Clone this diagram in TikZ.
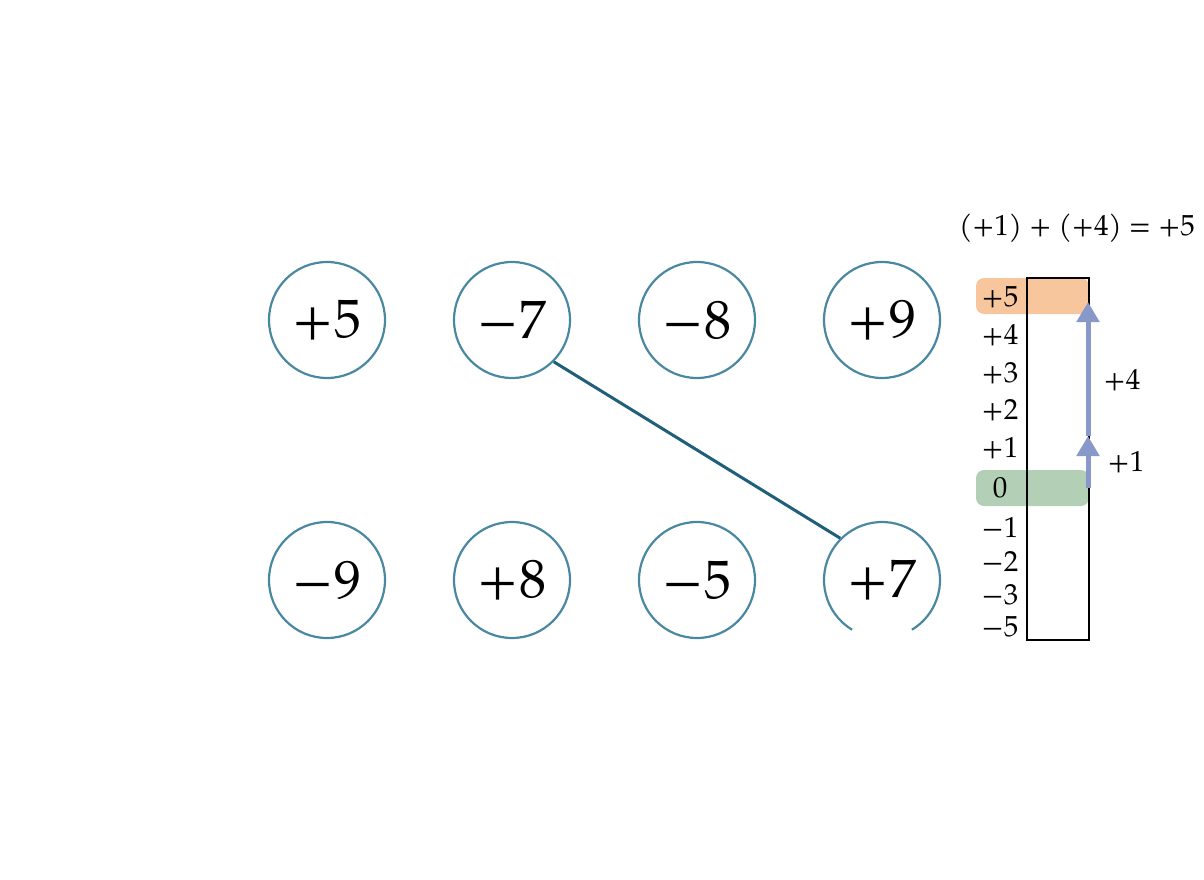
\documentclass[tikz,border=0pt]{standalone}
\usepackage{fontspec}
\setmainfont{TeX Gyre Pagella}
\usetikzlibrary{arrows.meta}
\definecolor{ring}{HTML}{4A88A2}
\definecolor{ln}{HTML}{1F5F7A}
\definecolor{arr}{HTML}{8898C8}
\definecolor{orng}{HTML}{F8C69C}
\definecolor{grn}{HTML}{B3CFB5}
\begin{document}
\begin{tikzpicture}[x=1pt,y=-1pt,
  num/.style={circle,draw=ring,line width=2.2pt,minimum size=116pt,inner sep=0pt,font=\fontsize{54}{54}\selectfont},
  lab/.style={font=\fontsize{29}{29}\selectfont,anchor=center},
  ar/.style={draw=arr,line width=5pt,-{Triangle[length=20pt,width=22pt]}}]
\useasboundingbox (0,0) rectangle (1204,880);
\node[num] (a) at (327,320) {+5};
\node[num] (b) at (512,320) {−7};
\node[num] (c) at (697,320) {−8};
\node[num] (d) at (882,320) {+9};
\node[num] (e) at (327,580) {−9};
\node[num] (f) at (512,580) {+8};
\node[num] (g) at (697,580) {−5};
\node[num,draw=none] (h) at (882,580) {+7};
\draw[ring,line width=2.2pt] (882,580) ++(121:58) arc[start angle=121,end angle=419,radius=58];
\draw[ln,line width=3pt] (b.-45) -- (h.135);
% number line
\fill[orng,rounded corners=8pt] (976,278) rectangle (1089,314);
\fill[grn,rounded corners=8pt] (976,470) rectangle (1089,506);
\node[draw=black,line width=1.5pt,minimum width=62pt,minimum height=362pt,inner sep=0pt] (bar) at (1058,459) {};
\foreach \v/\y/\n in {+5/297/l5,+4/335/l4,+3/373/l3,+2/410/l2,+1/448/l1,0/488/l0,−1/527/m1,−2/562/m2,−3/595/m3,−5/627/m5}
  \node[lab] (\n) at (1000,\y) {\v};
\coordinate (s0) at (1088,488);
\coordinate (s1) at (1088,436);
\coordinate (s5) at (1088,302);
\draw[ar] (s0) -- (s1);
\draw[ar] (s1) -- (s5);
\node[lab] (p4) at (1122,380) {+4};
\node[lab] (p1) at (1126,462) {+1};
\node[font=\fontsize{29}{29}\selectfont] (eq) at (1077,228) {(+1) + (+4) = +5};
\end{tikzpicture}
\end{document}
